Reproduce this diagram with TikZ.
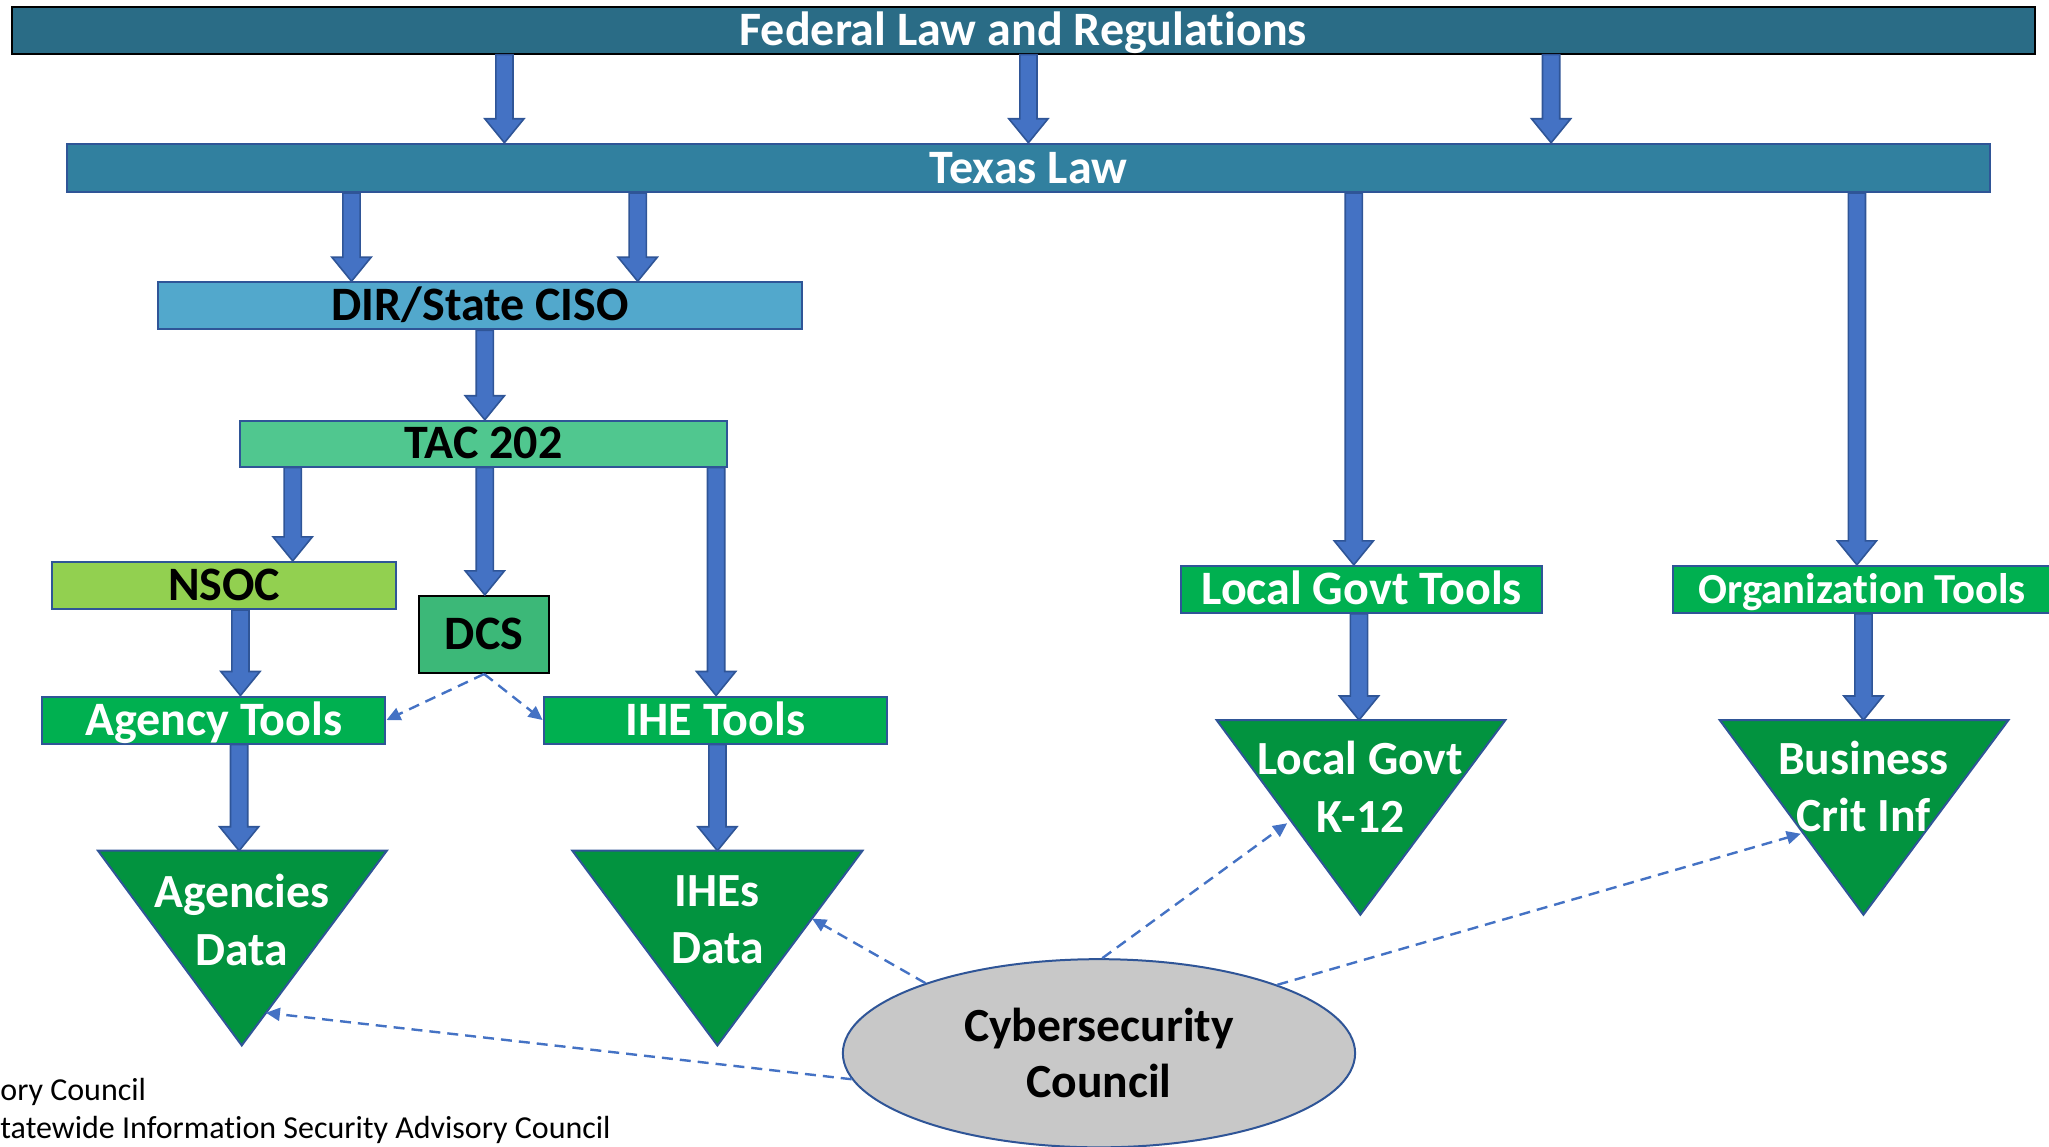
\documentclass[tikz,border=0pt]{standalone}
\usepackage{fontspec}
\setmainfont{Carlito}[Ligatures=NoCommon]
\usetikzlibrary{calc,arrows.meta,shapes.geometric}
\definecolor{fedfill}{HTML}{2A6C86}
\definecolor{texfill}{HTML}{31809F}
\definecolor{dirfill}{HTML}{52A8CC}
\definecolor{tacfill}{HTML}{50C78F}
\definecolor{nsocfill}{HTML}{92D050}
\definecolor{dcsfill}{HTML}{3CB878}
\definecolor{toolfill}{HTML}{00B050}
\definecolor{trifill}{HTML}{02933F}
\definecolor{bord}{HTML}{2F5597}
\definecolor{arrfill}{HTML}{4472C4}
\definecolor{ellfill}{HTML}{C8C8C8}
\newcommand{\pxu}{*0.6534pt}
\def\sw{4.3pt}
\def\hw{9.8pt}
\def\hl{12pt}
\tikzset{
  box/.style={draw=bord, line width=1pt, inner sep=0pt, text height=15.2pt, text depth=0pt, font=\bfseries\fontsize{24}{28}\selectfont},
  blockarrow/.style={fill=arrfill, draw=bord, line width=0.8pt, to path={
    let \p1=(\tikztostart), \p2=(\tikztotarget) in
    (\x1-\sw,\y1) -- (\x1-\sw,\y2+\hl) -- (\x1-\hw,\y2+\hl) -- (\x1,\y2) -- (\x1+\hw,\y2+\hl) -- (\x1+\sw,\y2+\hl) -- (\x1+\sw,\y1) -- cycle}},
  dasharrow/.style={draw=arrfill, line width=1.2pt, dash pattern=on 5.5pt off 3.5pt, -{Triangle[width=6.5pt,length=7pt]}},
  tri/.style={fill=trifill, draw=bord, line width=1pt},
  tritext/.style={text=white, font=\bfseries\fontsize{23.8}{28.7}\selectfont, align=center, inner sep=0pt},
  note/.style={anchor=west, inner sep=0pt, font=\fontsize{16}{19}\selectfont}
}
\begin{document}
\begin{tikzpicture}[x=0.6534pt,y=-0.6534pt]
\useasboundingbox (0,0) rectangle (1568,877);
\clip (0,0) rectangle (1568,877);
% boxes
\node[box, draw=black, fill=fedfill, text=white, minimum width=1548\pxu, minimum height=36\pxu] (fed) at (783,23) {Federal Law and Regulations};
\node[box, fill=texfill, text=white, minimum width=1472\pxu, minimum height=37\pxu] (tex) at (787,128.5) {Texas Law};
\node[box, fill=dirfill, text=black, minimum width=493\pxu, minimum height=36\pxu] (dir) at (367.5,234) {DIR/State CISO};
\node[box, fill=tacfill, text=black, minimum width=372\pxu, minimum height=35\pxu] (tac) at (370,339.5) {TAC 202};
\node[box, fill=nsocfill, text=black, minimum width=263\pxu, minimum height=36\pxu] (nsoc) at (171.5,448) {NSOC};
\node[box, draw=black, fill=dcsfill, text=black, minimum width=99\pxu, minimum height=59\pxu] (dcs) at (370.5,485.5) {DCS};
\node[box, fill=toolfill, text=white, minimum width=263\pxu, minimum height=36\pxu] (agt) at (163.5,551) {Agency Tools};
\node[box, fill=toolfill, text=white, minimum width=263\pxu, minimum height=36\pxu] (iht) at (547.5,551) {IHE Tools};
\node[box, fill=toolfill, text=white, minimum width=276\pxu, minimum height=36\pxu] (lgt) at (1042,451) {Local Govt Tools};
\node[box, fill=toolfill, text=white, minimum width=290\pxu, minimum height=36\pxu, text height=13.8pt, font=\bfseries\fontsize{21.4}{25}\selectfont] (ort) at (1425,451) {Organization Tools};
% triangles
\draw[tri] (75,651) -- (296,651) -- (185,800) -- cycle;
\draw[tri] (438,651) -- (660,651) -- (549,800) -- cycle;
\draw[tri] (931,551) -- (1152,551) -- (1041,700) -- cycle;
\draw[tri] (1316,551) -- (1537,551) -- (1426,700) -- cycle;
\coordinate (agdtop) at (183,651);
\coordinate (ihdtop) at (549,651);
\coordinate (lgdtop) at (1040,551);
\coordinate (bustop) at (1426,551);
\coordinate (agdedge) at (203.5,775);
\coordinate (ihdedge) at (621.5,703);
\coordinate (lgdedge) at (985,630);
\coordinate (busedge) at (1378,638);
\node[tritext] (agd) at (185,704) {Agencies\\Data};
\node[tritext] (ihd) at (549,704) {IHEs\\Data};
\node[tritext] (lgd) at (1041,602) {Local Govt\\K-12};
\node[tritext] (bus) at (1426,602) {Business\\Crit Inf};
% ellipse
\node[ellipse, fill=ellfill, draw=bord, line width=1pt, minimum width=392\pxu, minimum height=144\pxu, inner sep=0pt, align=center, font=\bfseries\fontsize{23.8}{28.1}\selectfont] (cc) at (841,806) {Cybersecurity\\Council};
% notes
\node[note] (n1) at (0,836) {ory Council};
\node[note] (n2) at (0,865) {tatewide Information Security Advisory Council};
% block arrows
\draw[blockarrow] (fed.south -| 386,0) to (tex.north -| 386,0);
\draw[blockarrow] (fed.south -| 787,0) to (tex.north -| 787,0);
\draw[blockarrow] (fed.south -| 1187,0) to (tex.north -| 1187,0);
\draw[blockarrow] (tex.south -| 269,0) to (dir.north -| 269,0);
\draw[blockarrow] (tex.south -| 488,0) to (dir.north -| 488,0);
\draw[blockarrow] (tex.south -| 1036,0) to (lgt.north -| 1036,0);
\draw[blockarrow] (tex.south -| 1421,0) to (ort.north -| 1421,0);
\draw[blockarrow] (dir.south -| 371,0) to (tac.north -| 371,0);
\draw[blockarrow] (tac.south -| 224,0) to (nsoc.north -| 224,0);
\draw[blockarrow] (tac.south -| 371,0) to (dcs.north -| 371,0);
\draw[blockarrow] (tac.south -| 548,0) to (iht.north -| 548,0);
\draw[blockarrow] (nsoc.south -| 184,0) to (agt.north -| 184,0);
\draw[blockarrow] (agt.south -| agdtop) to (agdtop);
\draw[blockarrow] (iht.south -| ihdtop) to (ihdtop);
\draw[blockarrow] (lgt.south -| lgdtop) to (lgdtop);
\draw[blockarrow] (ort.south -| bustop) to (bustop);
% dashed arrows
\draw[dasharrow] (dcs.south) -- (agt.east);
\draw[dasharrow] (dcs.south) -- (iht.west);
\draw[dasharrow] (cc.186) -- (agdedge);
\draw[dasharrow] (cc.158) -- (ihdedge);
\draw[dasharrow] (cc.88) -- (lgdedge);
\draw[dasharrow] (cc.21) -- (busedge);
\end{tikzpicture}
\end{document}
